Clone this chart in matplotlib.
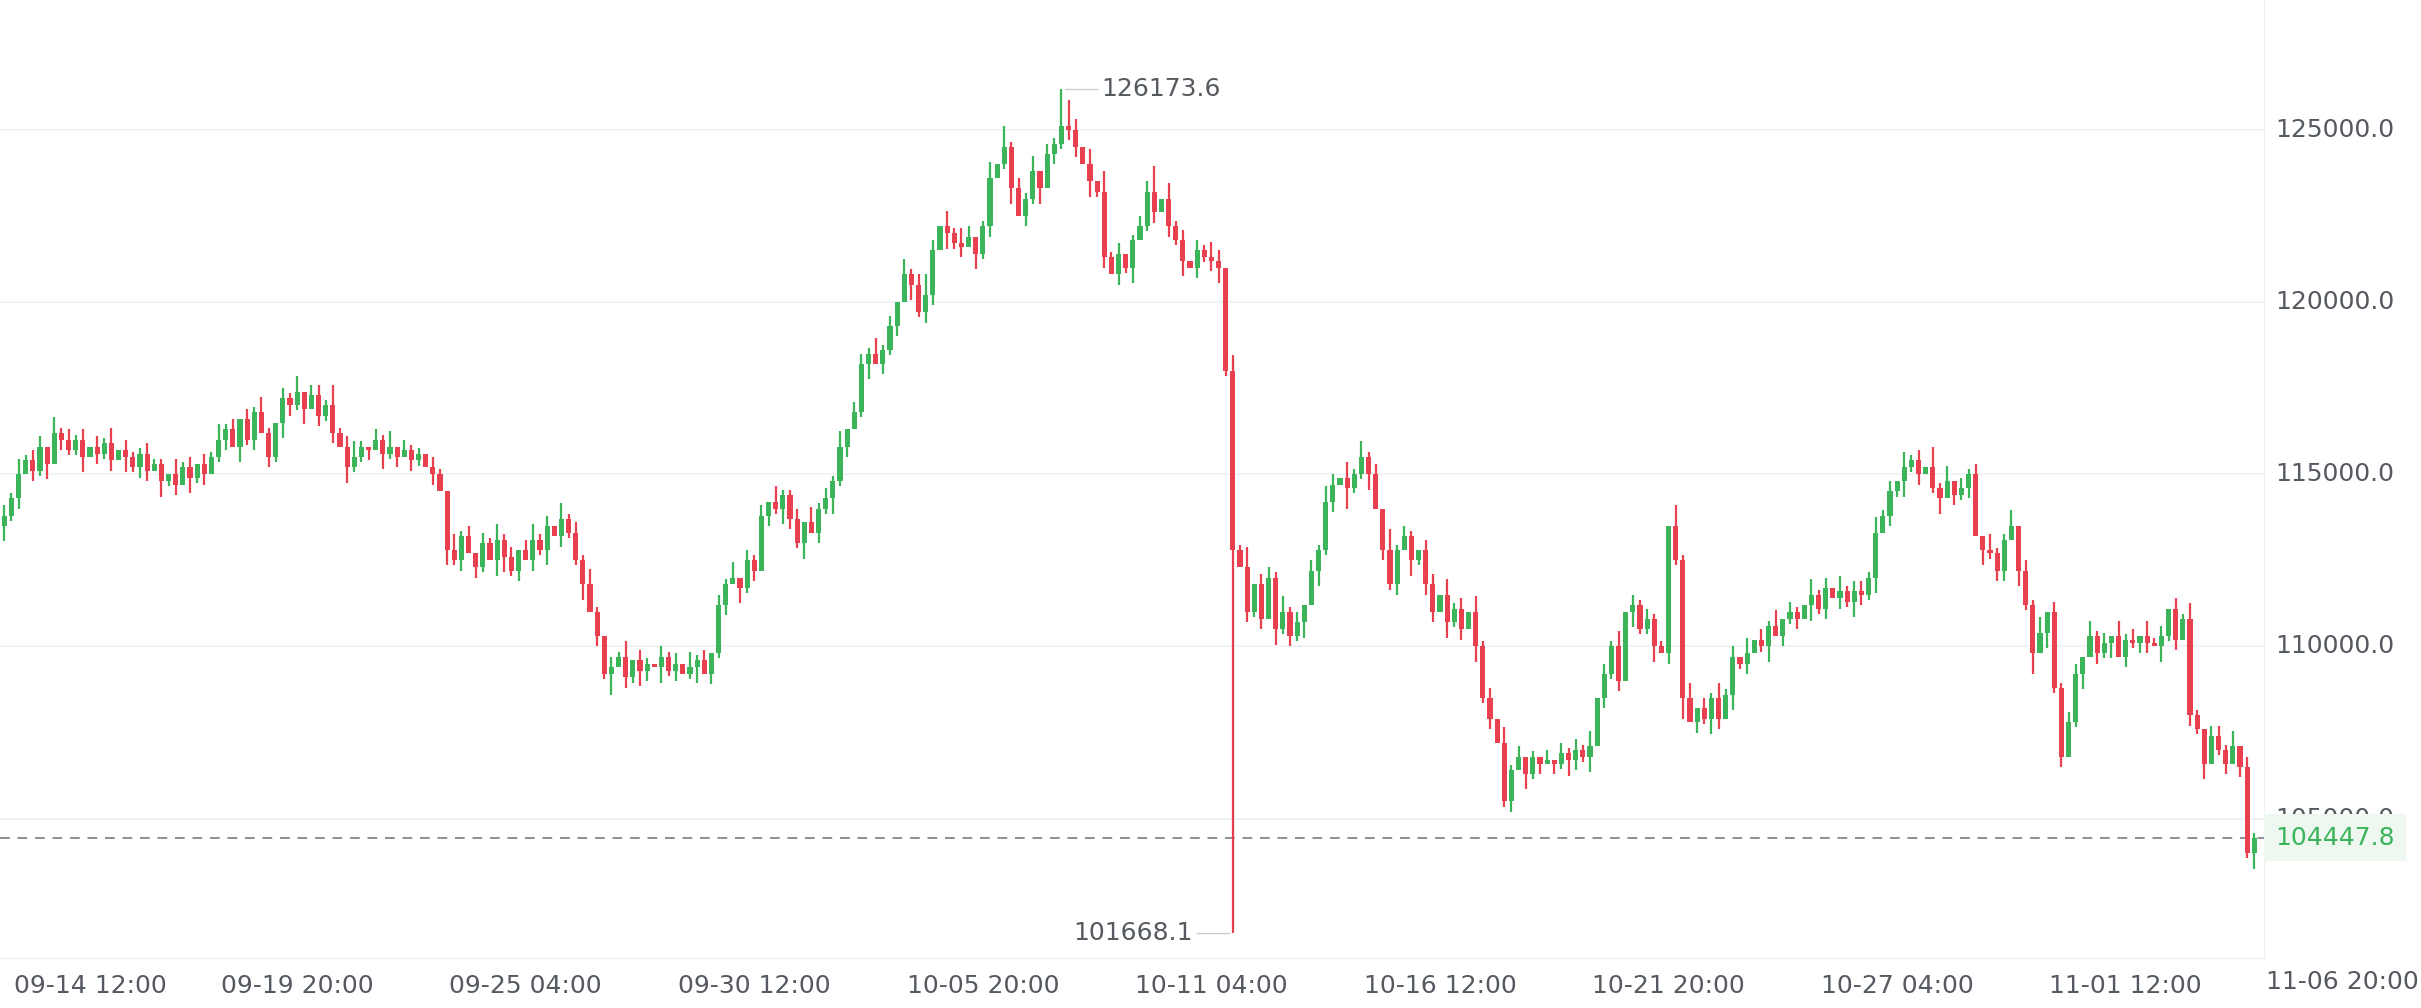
import numpy as np
import matplotlib.pyplot as plt

# 4h closes, in hundreds of USD
closes = [
    1138, 1143, 1150, 1154, 1151, 1158, 1153, 1162, 1160, 1157,
    1160, 1155, 1158, 1156, 1159, 1154, 1157, 1155, 1152, 1156,
    1151, 1153, 1148, 1150, 1147, 1152, 1149, 1153, 1150, 1155,
    1160, 1163, 1158, 1166, 1160, 1168, 1162, 1155, 1165, 1172,
    1170, 1174, 1169, 1173, 1167, 1170, 1162, 1158, 1152, 1155,
    1158, 1157, 1160, 1156, 1158, 1155, 1157, 1154, 1156, 1152,
    1150, 1145, 1128, 1125, 1132, 1127, 1123, 1130, 1125, 1131,
    1126, 1122, 1128, 1125, 1131, 1128, 1135, 1132, 1137, 1133,
    1125, 1118, 1110, 1103, 1092, 1094, 1097, 1091, 1096, 1093,
    1095, 1094, 1097, 1093, 1095, 1092, 1094, 1096, 1092, 1098,
    1112, 1118, 1120, 1117, 1125, 1122, 1138, 1142, 1140, 1144,
    1137, 1130, 1136, 1133, 1140, 1143, 1148, 1158, 1163, 1168,
    1182, 1185, 1182, 1186, 1193, 1200, 1208, 1205, 1197, 1202,
    1215, 1222, 1220, 1217, 1216, 1219, 1214, 1222, 1236, 1240,
    1245, 1233, 1225, 1230, 1238, 1233, 1243, 1246, 1251, 1250,
    1245, 1240, 1235, 1232, 1213, 1208, 1214, 1210, 1218, 1222,
    1232, 1226, 1230, 1222, 1218, 1212, 1210, 1215, 1213, 1212,
    1210, 1180, 1128, 1123, 1110, 1118, 1108, 1120, 1105, 1110,
    1103, 1107, 1112, 1122, 1128, 1142, 1147, 1149, 1146, 1150,
    1155, 1150, 1140, 1128, 1118, 1128, 1132, 1125, 1128, 1118,
    1110, 1115, 1107, 1111, 1105, 1110, 1100, 1085, 1079, 1072,
    1055, 1064, 1068, 1063, 1068, 1066, 1067, 1066, 1069, 1067,
    1070, 1068, 1071, 1085, 1092, 1100, 1090, 1110, 1112, 1105,
    1108, 1100, 1098, 1135, 1125, 1085, 1078, 1082, 1079, 1085,
    1079, 1086, 1097, 1095, 1098, 1102, 1100, 1106, 1103, 1108,
    1110, 1108, 1112, 1115, 1111, 1117, 1114, 1116, 1113, 1116,
    1115, 1120, 1133, 1138, 1145, 1148, 1152, 1154, 1150, 1152,
    1146, 1143, 1148, 1144, 1146, 1150, 1132, 1128, 1127, 1122,
    1131, 1135, 1122, 1112, 1098, 1104, 1110, 1088, 1068, 1078,
    1092, 1097, 1103, 1098, 1101, 1103, 1097, 1102, 1101, 1103,
    1101, 1100, 1103, 1111, 1102, 1108, 1080, 1076, 1066, 1074,
    1070, 1066, 1071, 1065, 1040, 1044.478,
]
first_open = 1135

# wick lengths beyond the body, in units of 150 USD
upper_wicks = ("2131220312" "1202130211" "2110312021" "3120213102" "1302214123"
               "1021302110" "2103120213" "1202312031" "2131021302" "1021203120"
               "2130212031" "1203121302" "2131203124" "2031320130" "4121302135"
               "2030412012" "2503120213" "2031402213" "1202132031" "3120412102"
               "2031203120" "3120102021" "2130213021" "2110413021" "3120302130"
               "2103120312" "2131203120" "4130212031" "1302130212" "2031203120"
               "3120213102" "213021")
lower_wicks = ("3120213021" "1302120312" "2031203120" "1203120213" "2130212031"
               "1203120210" "2031202103" "3120213021" "1302140213" "2031201302"
               "1203120213" "2130213120" "1302120312" "2031203120" "1302130212"
               "2031202130" "1202130212" "3130212031" "2130312041" "1302120312"
               "2031203120" "1203120213" "2130212031" "1302140213" "2031201302"
               "1203120213" "2130213120" "1302120312" "2031403120" "1302130212"
               "2031202130" "120213")

high_idx, high_val = 148, 126173.6
low_idx, low_val = 172, 101668.1
last_price = 104447.8

tick_idx = [9, 41, 73, 105, 137, 169, 201, 233, 265, 297]
tick_labels = ["09-14 12:00", "09-19 20:00", "09-25 04:00", "09-30 12:00", "10-05 20:00",
               "10-11 04:00", "10-16 12:00", "10-21 20:00", "10-27 04:00", "11-01 12:00"]
last_tick_label = "11-06 20:00"
y_ticks = [105000, 110000, 115000, 120000, 125000]

GREEN = "#3cb55a"
RED = "#e8404f"
TXT = "#555a60"
FS = 18

c = np.array(closes) * 100
o = np.concatenate([[first_open * 100], c[:-1]])
up = np.array([int(ch) for ch in upper_wicks]) * 150
dn = np.array([int(ch) for ch in lower_wicks]) * 150
h = np.maximum(o, c) + up
l = np.minimum(o, c) - dn
h[high_idx] = high_val
l[low_idx] = low_val
x = np.arange(len(c))

fig = plt.figure(figsize=(24.21, 10.08), dpi=100)
ax = fig.add_axes([0, 0.05, 0.935, 0.95])

for yv in y_ticks:
    ax.axhline(yv, color="#eef1f4", lw=1.2, zorder=0)

colors = [GREEN if cc >= oo else RED for oo, cc in zip(o, c)]
ax.vlines(x, l, h, colors=colors, lw=1.6, zorder=2)
body = np.maximum(np.abs(c - o), 60)
ax.bar(x, body, bottom=np.minimum(o, c), width=0.72, color=colors, zorder=3)

ax.axhline(last_price, color="#8a8f96", lw=1.4, ls=(0, (5, 4)), zorder=1)

ax.set_xlim(-0.6, 316.3)
ax.set_ylim(100966, 128767)
ax.set_yticks([])
ax.set_xticks([])
for s in ["top", "left"]:
    ax.spines[s].set_visible(False)
ax.spines["right"].set_color("#eef1f4")
ax.spines["bottom"].set_color("#eef1f4")

xtr = ax.get_xaxis_transform()
for i, (ti, lab) in enumerate(zip(tick_idx, tick_labels)):
    ax.text(ti if i else 1.3, -0.03, lab, transform=xtr,
            ha="left" if i == 0 else "center",
            va="center", fontsize=FS, color=TXT, clip_on=False)
fig.text(0.999, 0.026, last_tick_label, ha="right", va="center", fontsize=FS, color=TXT)

tr = ax.get_yaxis_transform()
for yv in y_ticks:
    ax.text(1.005, yv, f"{yv:.1f}", transform=tr, ha="left", va="center",
            fontsize=FS, color=TXT, clip_on=False)
ax.text(1.005, last_price, f"{last_price:.1f}", transform=tr, ha="left", va="center",
        fontsize=FS, color=GREEN, clip_on=False, zorder=10,
        bbox=dict(boxstyle="square,pad=0.45", fc="#eef8f0", ec="none"))

# max / min markers
ax.plot([high_idx + 0.5, high_idx + 5], [high_val, high_val], color="#c8ccd0", lw=1)
ax.text(high_idx + 5.6, high_val, f"{high_val:.1f}", ha="left", va="center",
        fontsize=FS, color=TXT)
ax.plot([low_idx - 0.5, low_idx - 5], [low_val, low_val], color="#c8ccd0", lw=1)
ax.text(low_idx - 5.6, low_val, f"{low_val:.1f}", ha="right", va="center",
        fontsize=FS, color=TXT)

fig.savefig("out.png", dpi=100, facecolor="white")
